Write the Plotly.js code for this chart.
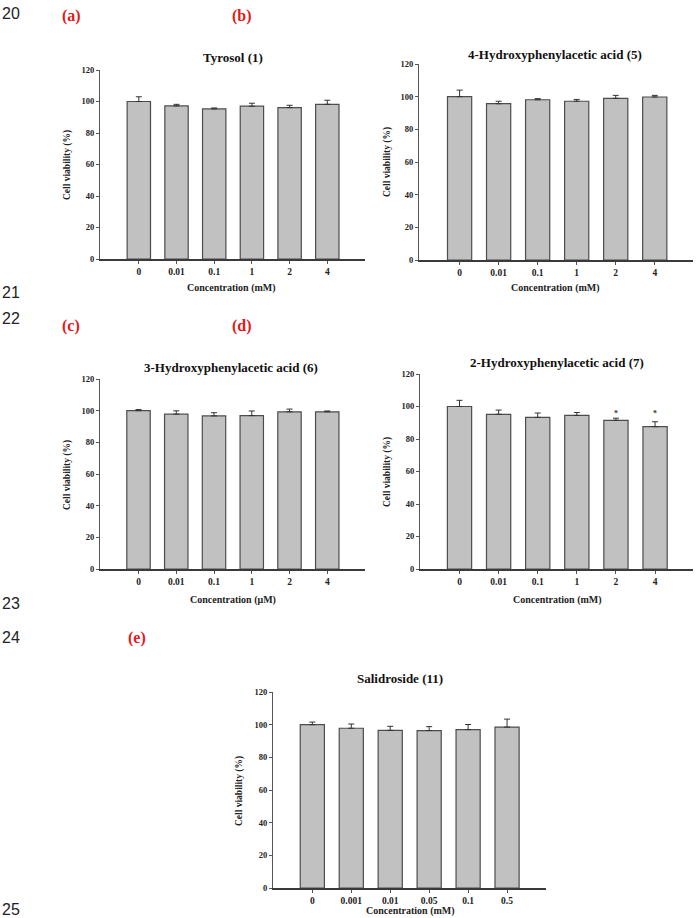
<!DOCTYPE html>
<html>
<head>
<meta charset="utf-8">
<script src="https://cdn.plot.ly/plotly-3.0.1.min.js"></script>
<style>
  html, body { margin: 0; padding: 0; background: #ffffff; }
  #chart { width: 700px; height: 918px; }
</style>
</head>
<body>
<div id="chart"></div>
<script>
// Cell viability (%) after treatment with each compound; bar = mean, error = +SD
const concMM = ['0', '0.01', '0.1', '1', '2', '4'];
const concSalidroside = ['0', '0.001', '0.01', '0.05', '0.1', '0.5'];

const tyrosolMean = [100, 97.2, 95.3, 97.0, 96.1, 98.2];
const tyrosolErr  = [3.0, 1.0, 0.6, 1.9, 1.5, 2.6];

const hpa4Mean = [100, 95.7, 98.1, 97.2, 99.0, 99.8];
const hpa4Err  = [4.0, 1.5, 0.7, 1.1, 1.8, 1.0];

const hpa3Mean = [100, 97.8, 96.7, 96.9, 99.3, 99.3];
const hpa3Err  = [0.7, 2.1, 2.0, 2.9, 1.7, 0.5];

const hpa2Mean = [100, 95.2, 93.3, 94.5, 91.5, 87.6];
const hpa2Err  = [3.8, 2.6, 2.7, 1.8, 1.3, 3.0];
const hpa2Significant = ['2', '4'];

const salidrosideMean = [100, 97.8, 96.5, 96.4, 97.0, 98.5];
const salidrosideErr  = [1.6, 2.6, 2.5, 2.4, 3.1, 4.9];

const yTicks = [0, 20, 40, 60, 80, 100, 120];

// ---- page geometry (pixels on a 700 x 918 page) ----
const W = 700, H = 918;
const fx = p => p / W;
const fy = p => 1 - p / H;

const SERIF = 'Liberation Serif, Times New Roman, serif';
const SANS = 'Liberation Sans, Arial, sans-serif';

const panels = [
  { name: 'Tyrosol (1)', cats: concMM, mean: tyrosolMean, err: tyrosolErr,
    unit: 'Concentration (mM)', box: [100, 365, 70, 259], xr: [-1.03, 6.0],
    title: [233, 57], xt: [232, 288], yt: [67, 165] },
  { name: '4-Hydroxyphenylacetic acid (5)', cats: concMM, mean: hpa4Mean, err: hpa4Err,
    unit: 'Concentration (mM)', box: [419, 693, 64, 260], xr: [-1.04, 5.98],
    title: [555, 54], xt: [555, 288], yt: [387, 162] },
  { name: '3-Hydroxyphenylacetic acid (6)', cats: concMM, mean: hpa3Mean, err: hpa3Err,
    unit: 'Concentration (\u03bcM)', box: [100, 365, 379, 569], xr: [-1.02, 6.0],
    title: [231, 367], xt: [233, 600], yt: [67, 475] },
  { name: '2-Hydroxyphenylacetic acid (7)', cats: concMM, mean: hpa2Mean, err: hpa2Err,
    unit: 'Concentration (mM)', box: [420, 693, 374, 569], xr: [-1.01, 5.97],
    title: [557, 363], xt: [557, 600], yt: [387, 472] },
  { name: 'Salidroside (11)', cats: concSalidroside, mean: salidrosideMean, err: salidrosideErr,
    unit: 'Concentration (mM)', box: [273, 546, 692, 888], xr: [-1.01, 6.0],
    title: [400, 678], xt: [410, 911], yt: [239, 791] }
];

const data = [];
const layout = {
  width: W, height: H,
  margin: { l: 0, r: 0, t: 0, b: 0 },
  paper_bgcolor: '#ffffff',
  plot_bgcolor: 'rgba(0,0,0,0)',
  showlegend: false,
  hovermode: false,
  annotations: []
};

panels.forEach((p, i) => {
  const n = i === 0 ? '' : String(i + 1);
  const xa = 'x' + n, ya = 'y' + n;

  data.push({
    type: 'bar',
    x: p.cats,
    y: p.mean,
    xaxis: xa, yaxis: ya,
    width: 0.62,
    marker: { color: '#c1c1c1', line: { color: '#4d4d4d', width: 1.2 } },
    error_y: {
      type: 'data', symmetric: false,
      array: p.err, arrayminus: p.err.map(() => 0),
      color: '#333333', thickness: 1, width: 3
    }
  });

  const [x0, x1, yTop, yBot] = p.box;
  layout['xaxis' + n] = {
    type: 'category',
    domain: [fx(x0), fx(x1)],
    range: p.xr,
    anchor: ya,
    showline: true, linecolor: '#3a3a3a', linewidth: 1.5,
    ticks: 'outside', ticklen: 3, tickwidth: 1, tickcolor: '#555',
    showgrid: false, zeroline: false, fixedrange: true,
    tickfont: { family: SERIF, size: 9.5, weight: 'bold', color: '#222' }
  };
  layout['yaxis' + n] = {
    domain: [fy(yBot), fy(yTop)],
    range: [0, 120],
    tickvals: yTicks,
    anchor: xa,
    showline: true, linecolor: '#555', linewidth: 1,
    ticks: 'outside', ticklen: 3, tickwidth: 1, tickcolor: '#555',
    showgrid: false, zeroline: false, fixedrange: true,
    tickfont: { family: SERIF, size: 8.5, weight: 'bold', color: '#222' }
  };

  // panel title
  layout.annotations.push({
    xref: 'paper', yref: 'paper', x: fx(p.title[0]), y: fy(p.title[1]),
    xanchor: 'center', yanchor: 'middle', showarrow: false,
    text: p.name, font: { family: SERIF, size: 13, weight: 'bold', color: '#111' }
  });
  // x axis title
  layout.annotations.push({
    xref: 'paper', yref: 'paper', x: fx(p.xt[0]), y: fy(p.xt[1]),
    xanchor: 'center', yanchor: 'middle', showarrow: false,
    text: p.unit, font: { family: SERIF, size: 10, weight: 'bold', color: '#222' }
  });
  // y axis title
  layout.annotations.push({
    xref: 'paper', yref: 'paper', x: fx(p.yt[0]), y: fy(p.yt[1]),
    xanchor: 'center', yanchor: 'middle', showarrow: false, textangle: -90,
    text: 'Cell viability (%)', font: { family: SERIF, size: 9.5, weight: 'bold', color: '#222' }
  });
});

// significance marks over the 2-hydroxyphenylacetic acid bars
hpa2Significant.forEach(c => {
  layout.annotations.push({
    xref: 'x4', yref: 'y4', x: concMM.indexOf(c), y: 95.5,
    xanchor: 'center', yanchor: 'middle', showarrow: false,
    text: '*', font: { family: SERIF, size: 8, weight: 'bold', color: '#333' }
  });
});

// document line numbers and panel letters
const lineNumbers = [['20', 13], ['21', 292], ['22', 318], ['23', 603], ['24', 637], ['25', 909]];
lineNumbers.forEach(([t, y]) => {
  layout.annotations.push({
    xref: 'paper', yref: 'paper', x: 0, y: fy(y),
    xanchor: 'left', yanchor: 'middle', showarrow: false,
    text: t, font: { family: SANS, size: 16, color: '#222' }
  });
});

const panelLetters = [['(a)', 71, 16], ['(b)', 242, 16], ['(c)', 71, 326], ['(d)', 242, 326], ['(e)', 137, 638]];
panelLetters.forEach(([t, x, y]) => {
  layout.annotations.push({
    xref: 'paper', yref: 'paper', x: fx(x), y: fy(y),
    xanchor: 'center', yanchor: 'middle', showarrow: false,
    text: t, font: { family: SERIF, size: 16, weight: 'bold', color: '#e3191c' }
  });
});

Plotly.newPlot('chart', data, layout, { displayModeBar: false, staticPlot: true });
</script>
</body>
</html>
